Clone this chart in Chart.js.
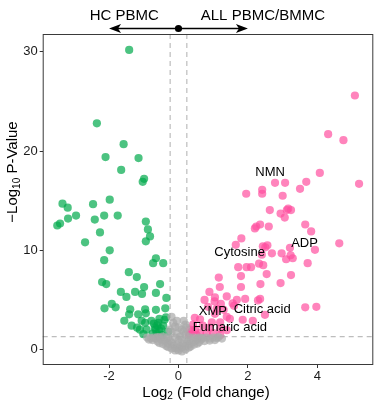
<!DOCTYPE html>
<html>
<head>
<meta charset="utf-8">
<script src="https://cdn.jsdelivr.net/npm/chart.js@4.4.1/dist/chart.umd.min.js"></script>
<style>
    html, body { margin: 0; padding: 0; background: #fff; }
    #wrap { width: 384px; height: 405px; }
</style>
</head>
<body>
<div id="wrap"><canvas id="volcano"></canvas></div>
<script>
const FONT = "'Liberation Sans', Arial, sans-serif";

const X_RANGE = [-3.91, 5.61];
const Y_RANGE = [-1.56, 31.8];
const X_TICKS = [-2, 0, 2, 4];
const Y_TICKS = [0, 10, 20, 30];
const FC_CUTOFF = 0.24;
const P_CUTOFF = 1.3;

// down in ALL (higher in HC PBMC)
const downPoints = [
    [-1.42, 30.2], [-2.35, 22.8], [-1.58, 20.7], [-2.10, 19.4], [-1.15, 19.3], [-1.65, 18.1],
    [-0.99, 17.2], [-1.03, 16.9], [-3.34, 14.7], [-3.19, 14.3], [-2.46, 14.65], [-1.98, 15.1],
    [-2.95, 13.5], [-3.18, 13.2], [-2.41, 13.1], [-2.14, 13.5], [-1.75, 13.5], [-3.41, 12.7],
    [-3.49, 12.5], [-0.94, 12.9], [-0.88, 12.1], [-2.26, 11.8], [-0.82, 11.4], [-0.94, 10.9],
    [-2.69, 10.8], [-1.98, 10.0], [-2.14, 9.0], [-0.65, 9.2], [-0.73, 8.7], [-0.44, 8.7],
    [-1.43, 7.8], [-1.20, 7.3], [-2.20, 6.8], [-2.08, 6.6], [-0.99, 6.3], [-0.53, 6.6],
    [-1.66, 5.8], [-1.50, 5.3], [-1.25, 5.8], [-1.05, 5.6], [-0.65, 5.7], [-0.35, 5.2],
    [-1.92, 4.6], [-1.81, 4.25], [-2.13, 4.15], [-1.39, 4.05], [-0.96, 4.05], [-0.65, 4.0],
    [-0.38, 4.15], [-1.42, 3.55], [-1.16, 3.55], [-0.94, 3.65], [-0.55, 3.1], [-0.36, 3.25],
    [-1.56, 2.9], [-1.06, 2.9], [-0.96, 2.7], [-1.35, 2.4], [-1.19, 2.2], [-0.71, 2.6],
    [-0.61, 2.4], [-0.44, 2.4], [-1.11, 2.0], [-0.92, 2.0], [-0.74, 1.6], [-0.63, 1.55],
    [-0.48, 1.45], [-1.01, 1.55], [-0.66, 2.0], [-0.55, 1.9], [-0.78, 2.9], [-0.30, 1.8],
    [-0.40, 3.0], [-0.68, 2.2], [-0.58, 2.7], [-0.50, 2.1],
];

// up in ALL PBMC/BMMC
const upPoints = [
    [5.08, 25.6], [4.31, 21.7], [4.75, 21.1], [4.07, 17.8], [5.20, 16.7], [3.68, 16.9],
    [3.50, 16.2], [2.78, 16.8], [3.07, 16.8], [2.41, 16.1], [2.41, 15.7], [1.95, 15.7],
    [3.00, 15.5], [2.63, 14.05], [2.94, 13.7], [3.16, 14.2], [3.24, 14.05], [3.12, 14.05],
    [3.06, 13.3], [2.35, 12.6], [2.24, 12.4], [2.20, 12.2], [2.60, 12.4], [3.65, 12.6],
    [3.82, 11.9], [1.81, 11.2], [4.63, 10.7], [3.93, 10.05], [1.65, 10.55], [2.43, 10.4],
    [2.56, 10.5], [2.50, 10.3], [3.21, 10.25], [2.69, 9.7], [2.97, 9.7], [2.40, 9.55],
    [3.10, 9.1], [3.29, 9.2], [3.23, 9.5], [3.72, 8.7], [2.32, 8.65], [2.44, 8.5],
    [1.72, 8.3], [1.96, 8.3], [2.09, 8.3], [2.54, 7.6], [3.24, 7.5], [1.80, 7.4],
    [1.16, 7.25], [2.36, 6.6], [2.94, 6.7], [1.19, 6.3], [1.80, 6.3], [0.89, 5.8],
    [0.75, 5.0], [1.05, 5.25], [1.04, 4.85], [1.39, 5.35], [1.68, 5.0], [1.92, 5.1],
    [2.29, 4.95], [2.35, 5.1], [3.65, 4.25], [3.97, 4.3], [1.56, 4.65], [1.60, 4.4],
    [1.22, 4.6], [1.10, 4.1], [1.39, 3.3], [1.48, 3.1], [0.47, 3.2], [0.62, 3.05],
    [0.96, 2.75], [1.20, 2.75], [2.49, 3.5], [1.85, 3.0], [2.14, 2.9], [0.33, 2.0],
    [0.48, 2.0], [0.62, 1.65], [0.81, 1.65], [1.00, 1.65], [1.20, 1.45], [0.38, 1.8],
    [0.52, 1.45], [1.20, 2.1], [1.39, 1.95], [0.70, 2.4], [0.90, 2.2], [0.30, 1.5],
    [0.42, 2.5], [1.05, 3.6], [0.85, 4.3], [1.30, 4.0],
];

// not significant
const nsPoints = [
    [0.00, 0.1], [0.05, 0.3], [-0.05, 0.5], [0.10, 0.2], [-0.10, 0.15], [0.15, 0.6],
    [-0.15, 0.4], [0.20, 0.35], [-0.20, 0.7], [0.25, 0.8], [-0.25, 0.9], [0.30, 0.5],
    [-0.30, 0.6], [0.35, 1.0], [-0.35, 1.1], [0.40, 0.7], [-0.40, 0.9], [0.45, 1.2],
    [-0.45, 1.3], [0.50, 0.9], [-0.50, 1.0], [0.55, 1.1], [-0.55, 1.2], [0.60, 1.2],
    [-0.60, 1.25], [0.65, 1.0], [-0.65, 1.1], [0.70, 1.15], [-0.70, 1.2], [0.80, 1.2],
    [-0.80, 1.15], [0.90, 1.1], [-0.85, 1.0], [1.00, 1.2], [1.10, 1.15], [1.25, 1.1],
    [0.00, 0.9], [0.05, 1.3], [-0.05, 1.6], [0.10, 2.0], [-0.10, 2.3], [0.15, 1.8],
    [-0.15, 2.7], [-0.20, 3.3], [0.20, 2.5], [0.00, 2.2], [-0.05, 2.9], [0.10, 1.0],
    [-0.10, 1.2], [0.20, 1.5], [-0.20, 1.8], [0.30, 0.2], [-0.30, 0.25], [0.45, 0.5],
    [-0.45, 0.55], [0.60, 0.75], [-0.60, 0.8], [0.75, 0.85], [0.90, 0.9], [0.00, -0.1],
    [0.20, 0.0], [-0.20, 0.1], [0.15, 2.9], [-0.25, 2.0], [0.22, 2.2],
    [-0.75, 0.95], [-0.90, 1.2], [1.05, 0.95], [1.15, 1.25], [0.35, 0.3], [-0.35, 0.35],
    [0.55, 0.6], [-0.55, 0.65], [0.10, -0.2], [-0.10, -0.1], [0.30, 1.25], [-0.30, 1.25],
];

const labelNames = ["NMN", "ADP", "Cytosine", "XMP", "Citric acid", "Fumaric acid"];
const labelX = [2.64, 3.63, 1.76, 0.99, 2.41, 1.48];
const labelY = [17.8, 10.7, 9.75, 3.8, 4.05, 2.24];

const headerNames = ["HC PBMC", "ALL PBMC/BMMC"];
const headerX = [-1.56, 2.43];
const arrowX = [-2, 0, 2];

const toXY = (arr) => arr.map(([x, y]) => ({ x, y }));

function arrowHead(ctx, tipX, y, dir) {
    const len = 12, half = 4.5, notch = 3;
    ctx.beginPath();
    ctx.moveTo(tipX, y);
    ctx.lineTo(tipX - dir * len, y - half);
    ctx.lineTo(tipX - dir * (len - notch), y);
    ctx.lineTo(tipX - dir * len, y + half);
    ctx.closePath();
    ctx.fill();
}

const cutoffLines = {
    id: "cutoffLines",
    beforeDatasetsDraw(chart) {
        const { ctx, chartArea, scales } = chart;
        ctx.save();
        ctx.strokeStyle = "#bdbdbd";
        ctx.lineWidth = 1.2;
        ctx.setLineDash([5, 4]);
        [-FC_CUTOFF, FC_CUTOFF].forEach((v) => {
            const px = scales.x.getPixelForValue(v);
            ctx.beginPath();
            ctx.moveTo(px, chartArea.top);
            ctx.lineTo(px, chartArea.bottom);
            ctx.stroke();
        });
        const py = scales.y.getPixelForValue(P_CUTOFF);
        ctx.beginPath();
        ctx.moveTo(chartArea.left, py);
        ctx.lineTo(chartArea.right, py);
        ctx.stroke();
        ctx.restore();
    },
};

const annotations = {
    id: "annotations",
    afterDatasetsDraw(chart) {
        const { ctx, scales } = chart;
        ctx.save();
        ctx.fillStyle = "#000";
        ctx.font = `13px ${FONT}`;
        ctx.textAlign = "center";
        ctx.textBaseline = "middle";
        labelNames.forEach((name, i) => {
            ctx.fillText(name, scales.x.getPixelForValue(labelX[i]), scales.y.getPixelForValue(labelY[i]));
        });
        ctx.restore();
    },
    afterDraw(chart) {
        const { ctx, chartArea, scales } = chart;
        ctx.save();
        // panel border
        ctx.strokeStyle = "#3a3a3a";
        ctx.lineWidth = 1;
        ctx.strokeRect(chartArea.left + 0.5, chartArea.top + 0.5, chartArea.width - 1, chartArea.height - 1);

        // header with arrows
        ctx.fillStyle = "#000";
        ctx.strokeStyle = "#000";
        ctx.font = `15px ${FONT}`;
        ctx.textAlign = "center";
        ctx.textBaseline = "alphabetic";
        headerNames.forEach((name, i) => ctx.fillText(name, scales.x.getPixelForValue(headerX[i]), 19.5));
        const ay = 28.5;
        const left = scales.x.getPixelForValue(arrowX[0]);
        const mid = scales.x.getPixelForValue(arrowX[1]);
        const right = scales.x.getPixelForValue(arrowX[2]);
        ctx.lineWidth = 1.3;
        ctx.beginPath();
        ctx.moveTo(left + 6, ay);
        ctx.lineTo(right - 6, ay);
        ctx.stroke();
        arrowHead(ctx, left, ay, -1);
        arrowHead(ctx, right, ay, 1);
        ctx.beginPath();
        ctx.arc(mid, ay, 3.6, 0, Math.PI * 2);
        ctx.fill();

        // x title: Log2 (Fold change)
        const xParts = [["Log", 15, 0], ["2", 10, 4], [" (Fold change)", 15, 0]];
        drawParts(ctx, xParts, (chartArea.left + chartArea.right) / 2 - 2, 392.5);

        // y title: -Log10 P-Value
        ctx.translate(13, 172);
        ctx.rotate(-Math.PI / 2);
        const yParts = [["\u2212Log", 15, 0], ["10", 10, 4], [" P-Value", 15, 0]];
        drawParts(ctx, yParts, 0, 0);
        ctx.restore();
    },
};

function drawParts(ctx, parts, cx, cy) {
    ctx.textAlign = "left";
    ctx.textBaseline = "middle";
    let total = 0;
    parts.forEach(([t, size]) => {
        ctx.font = `${size}px ${FONT}`;
        total += ctx.measureText(t).width;
    });
    let x = cx - total / 2;
    parts.forEach(([t, size, dy]) => {
        ctx.font = `${size}px ${FONT}`;
        ctx.fillText(t, x, cy + dy);
        x += ctx.measureText(t).width;
    });
}

const axisCommon = {
    type: "linear",
    border: { display: false },
    grid: { drawOnChartArea: false, drawTicks: true, tickLength: 3, tickColor: "#333", lineWidth: 1 },
};

new Chart(document.getElementById("volcano"), {
    type: "scatter",
    data: {
        datasets: [
            { label: "NS", data: toXY(nsPoints), backgroundColor: "rgba(170,170,170,0.7)" },
            { label: "Down", data: toXY(downPoints), backgroundColor: "rgba(0,170,75,0.7)" },
            { label: "Up", data: toXY(upPoints), backgroundColor: "rgba(255,80,160,0.7)" },
        ],
    },
    options: {
        responsive: true,
        maintainAspectRatio: false,
        animation: false,
        layout: { padding: { top: 34, right: 10.7, left: 0, bottom: 0 } },
        elements: { point: { radius: 4.1, borderWidth: 0, hoverRadius: 4.1 } },
        plugins: { legend: { display: false }, tooltip: { enabled: false } },
        scales: {
            x: {
                ...axisCommon,
                min: X_RANGE[0],
                max: X_RANGE[1],
                afterBuildTicks: (s) => { s.ticks = X_TICKS.map((v) => ({ value: v })); },
                afterFit: (s) => { s.height = 40; },
                ticks: { font: { size: 13, family: FONT }, color: "#1a1a1a", padding: 1, maxRotation: 0, autoSkip: false },
            },
            y: {
                ...axisCommon,
                min: Y_RANGE[0],
                max: Y_RANGE[1],
                afterBuildTicks: (s) => { s.ticks = Y_TICKS.map((v) => ({ value: v })); },
                afterFit: (s) => { s.width = 42.7; },
                ticks: { font: { size: 13, family: FONT }, color: "#1a1a1a", padding: 2, autoSkip: false },
            },
        },
    },
    plugins: [cutoffLines, annotations],
});
</script>
</body>
</html>
